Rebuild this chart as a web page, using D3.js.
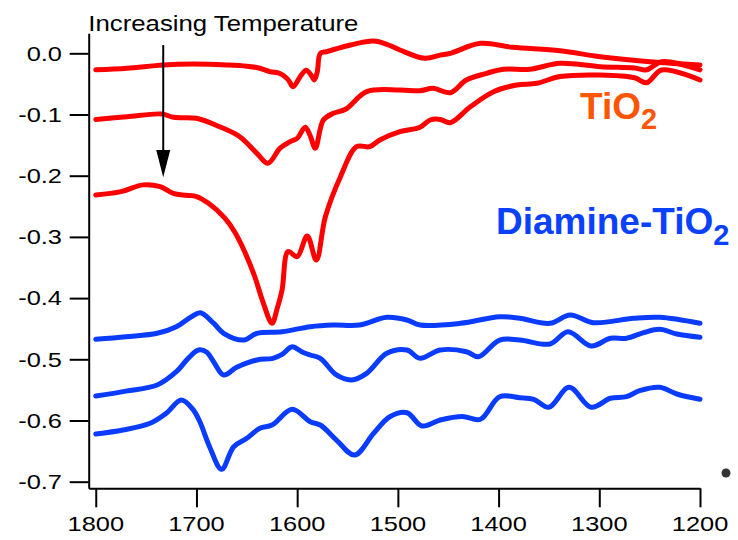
<!DOCTYPE html>
<html>
<head>
<meta charset="utf-8">
<script src="https://cdn.jsdelivr.net/npm/d3@7"></script>
<style>
  body { margin: 0; background: #fff; }
  svg { display: block; }
</style>
</head>
<body>
<svg id="chart" width="738" height="540"></svg>
<script>
// IR difference spectra: [wavenumber (cm-1), absorbance] along each trace
const tio2Low = [[1800,-0.027],[1769,-0.0245],[1733,-0.019],[1703,-0.0175],[1670,-0.019],[1650,-0.021],[1638,-0.024],[1627,-0.030],[1617,-0.033],[1609,-0.043],[1604,-0.0545],[1597,-0.038],[1591,-0.0275],[1586,-0.036],[1583,-0.0436],[1580,-0.030],[1577,0.000],[1571,0.0026],[1547,0.0136],[1524,0.0201],[1510,0.014],[1498,0.0054],[1473,-0.0082],[1458,-0.003],[1448,0.000],[1418,0.0163],[1386,0.0098],[1339,0.0042],[1299,-0.0056],[1250,-0.0137],[1200,-0.019]];
const tio2Mid = [[1800,-0.108],[1769,-0.1036],[1734,-0.0992],[1723,-0.1046],[1700,-0.1062],[1677,-0.120],[1657,-0.1363],[1640,-0.1634],[1629,-0.1797],[1617,-0.155],[1607,-0.1444],[1600,-0.1389],[1592,-0.1209],[1587,-0.135],[1582,-0.1552],[1574,-0.109],[1564,-0.098],[1552,-0.0915],[1531,-0.0627],[1498,-0.060],[1478,-0.0611],[1465,-0.0572],[1448,-0.0644],[1432,-0.0436],[1412,-0.0327],[1395,-0.0261],[1369,-0.0261],[1339,-0.0163],[1299,-0.0219],[1265,-0.024],[1253,-0.027],[1238,-0.0137],[1200,-0.027]];
const tio2High = [[1800,-0.2315],[1775,-0.226],[1753,-0.215],[1736,-0.218],[1723,-0.229],[1710,-0.232],[1700,-0.234],[1688,-0.245],[1672,-0.269],[1662,-0.292],[1652,-0.3247],[1642,-0.3655],[1634,-0.406],[1625,-0.4412],[1620,-0.418],[1615,-0.3868],[1609,-0.324],[1600,-0.3324],[1590,-0.2985],[1581,-0.3378],[1572,-0.267],[1557,-0.2016],[1541,-0.1526],[1528,-0.1526],[1518,-0.1417],[1498,-0.1281],[1478,-0.1209],[1468,-0.109],[1458,-0.108],[1448,-0.1134],[1428,-0.0873],[1405,-0.0627],[1382,-0.0518],[1362,-0.049],[1339,-0.038],[1299,-0.0355],[1265,-0.040],[1253,-0.048],[1238,-0.0273],[1200,-0.0436]];

const diamineLow = [[1800,-0.4673],[1770,-0.463],[1739,-0.4575],[1720,-0.4467],[1705,-0.4304],[1696,-0.4239],[1683,-0.441],[1673,-0.4575],[1653,-0.4685],[1640,-0.4575],[1615,-0.455],[1587,-0.4467],[1564,-0.444],[1538,-0.444],[1511,-0.4314],[1491,-0.4358],[1478,-0.444],[1438,-0.4412],[1399,-0.4304],[1379,-0.433],[1349,-0.4412],[1329,-0.4276],[1306,-0.4402],[1266,-0.433],[1240,-0.4314],[1200,-0.4412]];
const diamineMid = [[1800,-0.56],[1770,-0.552],[1739,-0.542],[1720,-0.5203],[1708,-0.498],[1698,-0.4848],[1690,-0.488],[1683,-0.5039],[1673,-0.5256],[1660,-0.5131],[1640,-0.5011],[1624,-0.4984],[1615,-0.492],[1605,-0.4794],[1595,-0.488],[1587,-0.493],[1577,-0.4984],[1561,-0.5256],[1546,-0.5338],[1531,-0.5229],[1511,-0.4902],[1491,-0.4848],[1478,-0.4984],[1458,-0.4848],[1432,-0.4876],[1420,-0.4958],[1399,-0.4685],[1379,-0.4685],[1349,-0.475],[1331,-0.4549],[1308,-0.4783],[1289,-0.4657],[1273,-0.4657],[1256,-0.4565],[1240,-0.451],[1223,-0.4587],[1200,-0.464]];
const diamineHigh = [[1800,-0.622],[1773,-0.6155],[1746,-0.6046],[1730,-0.5882],[1715,-0.5665],[1703,-0.583],[1696,-0.6046],[1687,-0.6428],[1675,-0.6797],[1663,-0.6428],[1650,-0.6291],[1637,-0.6127],[1625,-0.6074],[1605,-0.5817],[1587,-0.602],[1577,-0.6074],[1561,-0.6319],[1543,-0.6564],[1524,-0.6209],[1508,-0.5938],[1491,-0.5873],[1476,-0.609],[1458,-0.5992],[1436,-0.5935],[1418,-0.598],[1399,-0.5611],[1379,-0.5627],[1365,-0.5654],[1350,-0.5784],[1330,-0.5458],[1308,-0.5784],[1289,-0.5637],[1273,-0.5611],[1260,-0.5513],[1240,-0.5458],[1223,-0.5567],[1200,-0.5654]];

const xTicks = [1800, 1700, 1600, 1500, 1400, 1300, 1200];
const xTickLabels = ["1800", "1700", "1600", "1500", "1400", "1300", "1200"];
const yTicks = [0, -0.1, -0.2, -0.3, -0.4, -0.5, -0.6, -0.7];
const yTickLabels = ["0.0", "-0.1", "-0.2", "-0.3", "-0.4", "-0.5", "-0.6", "-0.7"];

const RED = "#ff0000";
const BLUE = "#0a3cff";
const ORANGE = "#ff5500";
const LABEL_BLUE = "#0a40ff";
const FONT = "'Liberation Sans', Arial, Helvetica, sans-serif";
const STRETCH = 1.21;   // axis text is drawn slightly wide

const svg = d3.select("#chart");

// wavenumber axis runs high to low
const x = d3.scaleLinear().domain([1807, 1200]).range([88.7, 700]);
const y = d3.scaleLinear().domain([0.0327, -0.7108]).range([33.3, 488.3]);

// axes (labels drawn separately)
const yAxis = d3.axisLeft(y).tickValues(yTicks).tickSize(19).tickSizeOuter(0).tickFormat("");
const xAxis = d3.axisBottom(x).tickValues(xTicks).tickSize(19).tickSizeOuter(0).tickFormat("");

const gy = svg.append("g").attr("transform", `translate(${x(1807)},0)`).call(yAxis);
const gx = svg.append("g").attr("transform", `translate(0,${y(-0.7108)})`).call(xAxis);
[gy, gx].forEach(g => {
  g.selectAll("path, line").attr("stroke", "#000").attr("stroke-width", 2);
});

svg.append("g").selectAll("text").data(yTicks).join("text")
  .attr("transform", d => `translate(62,${y(d)}) scale(${STRETCH},1)`)
  .attr("dy", "0.35em")
  .attr("text-anchor", "end")
  .attr("font-family", FONT).attr("font-size", 21).attr("fill", "#000")
  .text((d, i) => yTickLabels[i]);

svg.append("g").selectAll("text").data(xTicks).join("text")
  .attr("transform", d => `translate(${x(d)},531) scale(${STRETCH},1)`)
  .attr("text-anchor", "middle")
  .attr("font-family", FONT).attr("font-size", 21).attr("fill", "#000")
  .text((d, i) => xTickLabels[i]);

// spectra
const line = d3.line()
  .x(d => x(d[0]))
  .y(d => y(d[1]))
  .curve(d3.curveCatmullRom.alpha(0.5));

const traces = [
  { data: tio2Low, color: RED },
  { data: tio2Mid, color: RED },
  { data: tio2High, color: RED },
  { data: diamineLow, color: BLUE },
  { data: diamineMid, color: BLUE },
  { data: diamineHigh, color: BLUE }
];

svg.append("g").selectAll("path").data(traces).join("path")
  .attr("d", d => line(d.data))
  .attr("fill", "none")
  .attr("stroke", d => d.color)
  .attr("stroke-width", 5)
  .attr("stroke-linejoin", "round")
  .attr("stroke-linecap", "round");

// temperature annotation with arrow
svg.append("text")
  .attr("transform", `translate(88.3,30.5) scale(${STRETCH},1)`)
  .attr("font-family", FONT).attr("font-size", 21.3).attr("fill", "#000")
  .text("Increasing Temperature");

const ax = x(1733);
svg.append("line")
  .attr("x1", ax).attr("x2", ax)
  .attr("y1", y(0.0135)).attr("y2", y(-0.16))
  .attr("stroke", "#000").attr("stroke-width", 2);
svg.append("path")
  .attr("d", `M${ax - 7},${y(-0.158)} L${ax + 7},${y(-0.158)} L${ax},${y(-0.2024)} Z`)
  .attr("fill", "#000");

// series labels
const tio2Label = svg.append("text")
  .attr("x", 580).attr("y", 119)
  .attr("font-family", FONT).attr("font-weight", "bold").attr("font-size", 37)
  .attr("fill", ORANGE);
tio2Label.append("tspan").text("TiO");
tio2Label.append("tspan").attr("font-size", 29).attr("dy", 10).text("2");

const diamineLabel = svg.append("text")
  .attr("x", 496).attr("y", 234)
  .attr("font-family", FONT).attr("font-weight", "bold").attr("font-size", 37)
  .attr("fill", LABEL_BLUE);
diamineLabel.append("tspan").text("Diamine-TiO");
diamineLabel.append("tspan").attr("font-size", 29).attr("dy", 11).text("2");

// small marker dot at the lower right
svg.append("circle")
  .attr("cx", 726).attr("cy", 473).attr("r", 4.5)
  .attr("fill", "#333");
</script>
</body>
</html>
